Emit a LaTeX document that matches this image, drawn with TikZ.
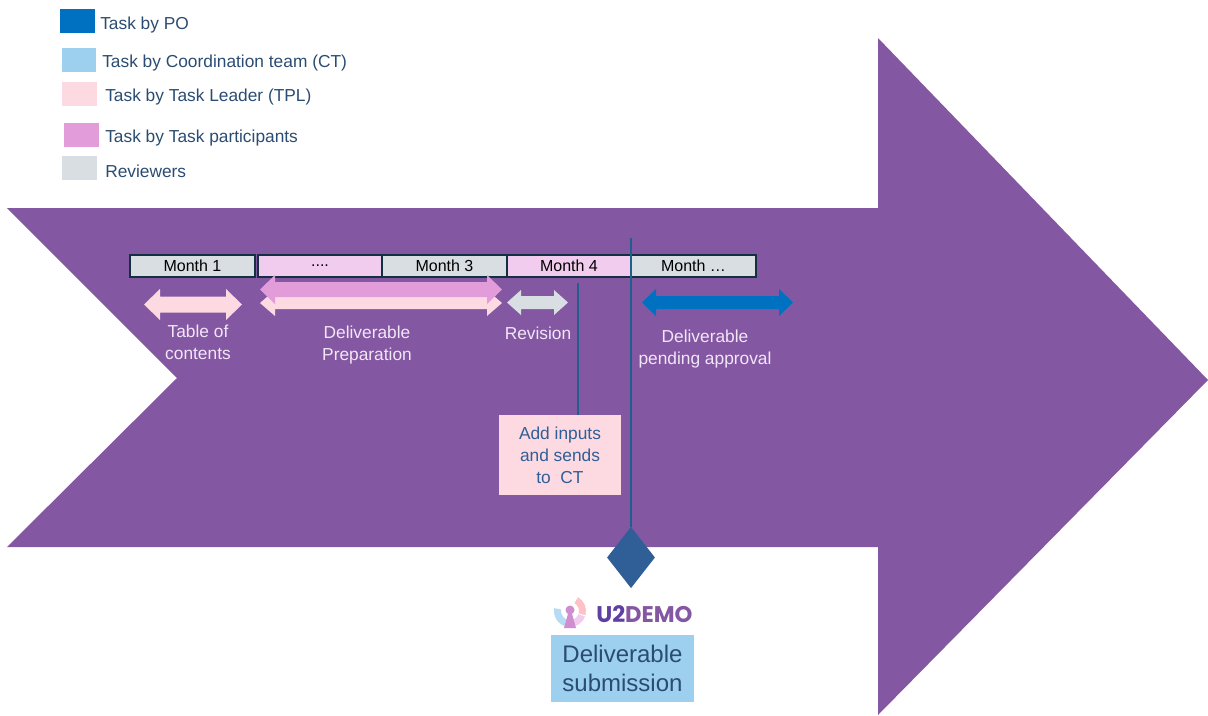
\documentclass[tikz,border=0pt]{standalone}
\usepackage{fontspec}
\setmainfont{Liberation Sans}
\newfontfamily\logofont{Poppins}
\usetikzlibrary{shapes.geometric}
\definecolor{bigarrow}{HTML}{8457A3}
\definecolor{taskpo}{HTML}{0070C0}
\definecolor{taskct}{HTML}{9DCFEE}
\definecolor{tasktpl}{HTML}{FDD9E1}
\definecolor{taskpart}{HTML}{E29CDA}
\definecolor{taskrev}{HTML}{D8DEE2}
\definecolor{cellpink}{HTML}{F2CCEE}
\definecolor{celledge}{HTML}{12303F}
\definecolor{legendtext}{HTML}{2B4C72}
\definecolor{paletext}{HTML}{F1E6F5}
\definecolor{stemline}{HTML}{1F5F8B}
\definecolor{milestone}{HTML}{2F5F96}
\tikzset{
	swatch/.style={fill=#1, minimum width=26pt, minimum height=18pt, inner sep=0},
	legendlabel/.style={anchor=west, inner sep=0, text=legendtext, font=\fontsize{13}{16}\selectfont},
	monthcell/.style={draw=celledge, line width=1.5pt, fill=#1, minimum width=93.5pt, minimum height=17pt, inner sep=0, font=\fontsize{12}{14}\selectfont},
	palelabel/.style={align=center, inner sep=0, text=paletext, font=\fontsize{13}{16.5}\selectfont},
}
% x1, x2, y, half shaft, half head, head length
\newcommand{\spanarrow}[7]{
	\fill[#7] (#1,#3) -- (#1+#6,#3-#5) -- (#1+#6,#3-#4) -- (#2-#6,#3-#4) -- (#2-#6,#3-#5) -- (#2,#3)
		-- (#2-#6,#3+#5) -- (#2-#6,#3+#4) -- (#1+#6,#3+#4) -- (#1+#6,#3+#5) -- cycle;
}
\begin{document}
\begin{tikzpicture}[x=0.75pt, y=-0.75pt]
	\useasboundingbox (0,0) rectangle (1208,715);
	% Big arrow
	\fill[bigarrow] (7,208) -- (878,208) -- (878,38) -- (1208,380) -- (878,715) -- (878,547) -- (7,547) -- (177,378) -- cycle;
	% Legend
	\node[swatch=taskpo] (po) at (77.5,21) {};
	\node[legendlabel] (polabel) at (100,25) {Task by PO};
	\node[swatch=taskct] (ct) at (79,59.5) {};
	\node[legendlabel] (ctlabel) at (102,63) {Task by Coordination team (CT)};
	\node[swatch=tasktpl] (tpl) at (79.5,94) {};
	\node[legendlabel] (tpllabel) at (105,97) {Task by Task Leader (TPL)};
	\node[swatch=taskpart] (part) at (81.5,134.5) {};
	\node[legendlabel] (partlabel) at (105,138) {Task by Task participants};
	\node[swatch=taskrev] (rev) at (79.5,168) {};
	\node[legendlabel] (revlabel) at (105,171) {Reviewers};
	% Months
	\node[monthcell=taskrev] (month1) at (192.5,266) {Month 1};
	\node[monthcell=cellpink] (month2) at (320,266) {....};
	\node[monthcell=taskrev] (month3) at (444.5,266) {Month 3};
	\node[monthcell=cellpink] (month4) at (569,266) {Month 4};
	\node[monthcell=taskrev] (month5) at (693.5,266) {Month \dots};
	% Spans
	\spanarrow{144}{242}{304.5}{8}{15.5}{16}{tasktpl}
	\spanarrow{260}{502}{303}{6}{13}{15}{tasktpl}
	\spanarrow{260}{502}{289.5}{7.5}{14.5}{15}{taskpart}
	\spanarrow{507}{568}{302.5}{6.5}{12.5}{14}{taskrev}
	\spanarrow{642}{793}{302.5}{6.5}{13.5}{14}{taskpo}
	\node[palelabel] (toc) at (198,342) {Table of\\contents};
	\node[palelabel] (prep) at (367,345.5) {Deliverable\\Preparation};
	\node[palelabel] (revision) at (538,333) {Revision};
	\node[palelabel] (pending) at (705,349.5) {Deliverable\\pending approval};
	% Inputs and submission
	\node[fill=tasktpl, minimum width=91.5pt, minimum height=60pt, inner sep=0, align=center, text=milestone, font=\fontsize{13}{16.5}\selectfont] (inputs) at (560,455) {Add inputs\\and sends\\to\ \ CT};
	\coordinate (inputstop) at (578,283);
	\draw[stemline, line width=1.6pt] (inputstop) -- (inputstop |- inputs.north);
	\node[diamond, fill=milestone, minimum width=36pt, minimum height=46pt, inner sep=0] (submit) at (631,557.5) {};
	\coordinate (submittop) at (631,238);
	\draw[stemline, line width=1.6pt] (submittop) -- (submit.north);
	\node[fill=taskct, minimum width=107pt, minimum height=50pt, inner sep=0, align=center, text=legendtext, font=\fontsize{18}{21.5}\selectfont] (submission) at (622.5,668.5) {Deliverable\\submission};
	% Logo
	\fill[taskct!75] (570,611) ++(190:16) arc (190:105:16) -- ++(285:7) arc (105:190:9) -- cycle;
	\fill[cellpink] (570,611) ++(100:16) arc (100:20:16) -- ++(200:7) arc (20:100:9) -- cycle;
	\fill[tasktpl!70!red!60] (570,611) ++(15:16) arc (15:-60:16) -- ++(120:7) arc (-60:15:9) -- cycle;
	\fill[taskpart!80!bigarrow] (570,610) circle (4.5);
	\fill[taskpart!80!bigarrow] (568.5,612) -- (571.5,612) -- (576,628) -- (564,628) -- cycle;
	\node[anchor=west, inner sep=0, font=\logofont\bfseries\fontsize{17}{20}\selectfont] (logo) at (596,614) {\textcolor{bigarrow!80!blue!90!black}{U2}\textcolor{bigarrow}{DEMO}};
\end{tikzpicture}
\end{document}
